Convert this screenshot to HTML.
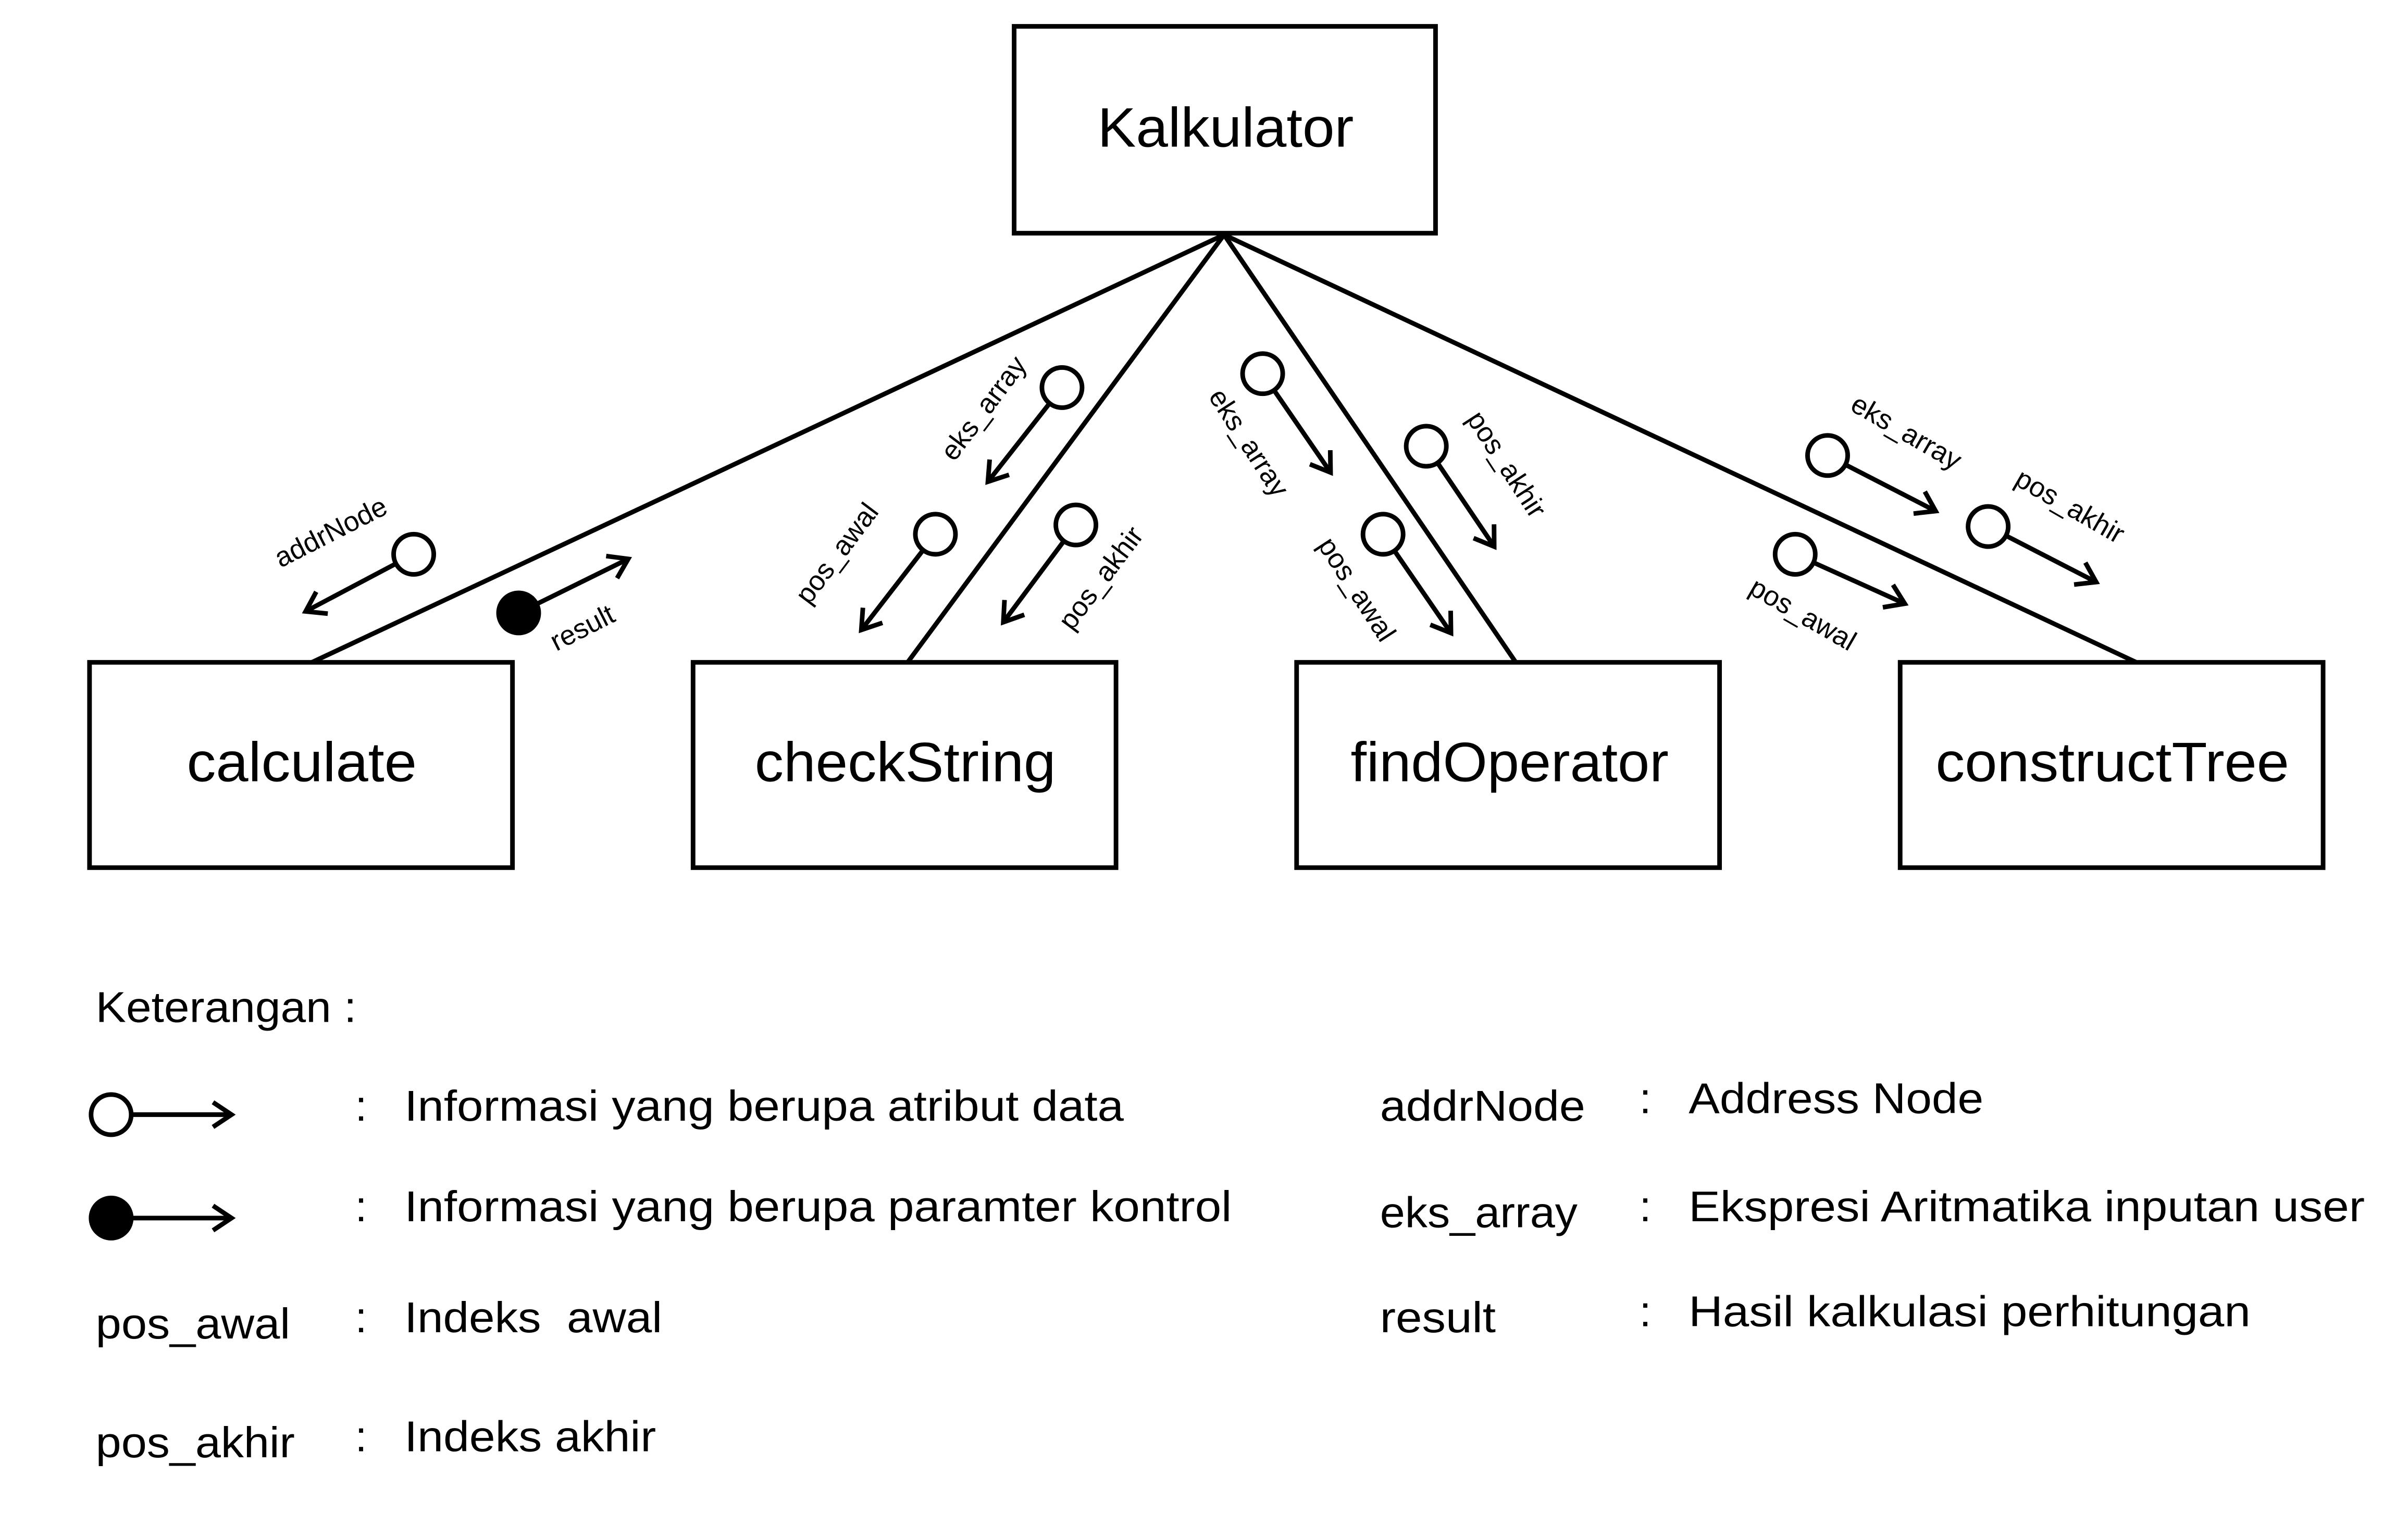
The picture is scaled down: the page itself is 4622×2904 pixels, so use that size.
<!DOCTYPE html>
<html><head><meta charset="utf-8"><style>
html,body{margin:0;padding:0;background:#fff;}
svg{display:block;}
text{font-family:"Liberation Sans",sans-serif;fill:#000;}
</style></head><body>
<svg width="4622" height="2904" viewBox="0 0 1560 980" xmlns="http://www.w3.org/2000/svg">
<defs>
<marker id="ah" markerUnits="userSpaceOnUse" markerWidth="30" markerHeight="30" refX="14" refY="10" orient="auto">
<path d="M2,2 L14,10 L2,18" fill="none" stroke="#000" stroke-width="3"/>
</marker>
</defs>
<rect width="1560" height="980" fill="#fff"/>
<g fill="#fff" stroke="#000" stroke-width="3">
<rect x="657" y="17" width="273" height="134"/>
<rect x="58" y="429" width="274" height="133"/>
<rect x="449" y="429" width="274" height="133"/>
<rect x="840" y="429" width="274" height="133"/>
<rect x="1231" y="429" width="274" height="133"/>
</g>
<g stroke="#000" stroke-width="3">
<line x1="793" y1="152" x2="202" y2="429"/>
<line x1="793" y1="152" x2="588" y2="429"/>
<line x1="793" y1="152" x2="982" y2="429"/>
<line x1="793" y1="152" x2="1384" y2="429"/>
</g>
<g font-size="36">
<text x="711" y="95" textLength="166" lengthAdjust="spacingAndGlyphs">Kalkulator</text>
<text x="121" y="506" textLength="149" lengthAdjust="spacingAndGlyphs">calculate</text>
<text x="489" y="506" textLength="195" lengthAdjust="spacingAndGlyphs">checkString</text>
<text x="875" y="506" textLength="206" lengthAdjust="spacingAndGlyphs">findOperator</text>
<text x="1254" y="506" textLength="229" lengthAdjust="spacingAndGlyphs">constructTree</text>
</g>
<g stroke="#000" stroke-width="3" fill="none" marker-end="url(#ah)">
<line x1="268" y1="359" x2="198" y2="396"/>
<line x1="336" y1="397" x2="407" y2="362"/>
<line x1="688" y1="251" x2="640" y2="312"/>
<line x1="606" y1="346" x2="558" y2="408"/>
<line x1="697" y1="340" x2="650" y2="403"/>
<line x1="818" y1="242" x2="862" y2="306"/>
<line x1="924" y1="289" x2="968" y2="354"/>
<line x1="896" y1="346" x2="940" y2="410"/>
<line x1="1184" y1="295" x2="1254" y2="331"/>
<line x1="1288" y1="341" x2="1358" y2="377"/>
<line x1="1163" y1="359" x2="1234" y2="391"/>
</g>
<g stroke="#000" stroke-width="3" fill="#fff">
<circle cx="268" cy="359" r="13"/>
<circle cx="336" cy="397" r="13" fill="#000"/>
<circle cx="688" cy="251" r="13"/>
<circle cx="606" cy="346" r="13"/>
<circle cx="697" cy="340" r="13"/>
<circle cx="818" cy="242" r="13"/>
<circle cx="924" cy="289" r="13"/>
<circle cx="896" cy="346" r="13"/>
<circle cx="1184" cy="295" r="13"/>
<circle cx="1288" cy="341" r="13"/>
<circle cx="1163" cy="359" r="13"/>
</g>
<g font-size="18" text-anchor="middle">
<text transform="translate(217,350) rotate(-27)">addrNode</text>
<text transform="translate(380,412) rotate(-27)">result</text>
<text transform="translate(642,268) rotate(-53)">eks_array</text>
<text transform="translate(547,362) rotate(-53)">pos_awal</text>
<text transform="translate(718,378) rotate(-53)">pos_akhir</text>
<text transform="translate(804,290) rotate(57)">eks_array</text>
<text transform="translate(971,304) rotate(57)">pos_akhir</text>
<text transform="translate(874,385) rotate(57)">pos_awal</text>
<text transform="translate(1232,285) rotate(30)">eks_array</text>
<text transform="translate(1338,333) rotate(30)">pos_akhir</text>
<text transform="translate(1165,403) rotate(30)">pos_awal</text>
</g>
<g font-size="28" lengthAdjust="spacingAndGlyphs">
<text x="62" y="662" textLength="169" lengthAdjust="spacingAndGlyphs">Keterangan :</text>
<text x="230" y="726">:</text>
<text x="262" y="726" textLength="466" lengthAdjust="spacingAndGlyphs">Informasi yang berupa atribut data</text>
<text x="230" y="791">:</text>
<text x="262" y="791" textLength="536" lengthAdjust="spacingAndGlyphs">Informasi yang berupa paramter kontrol</text>
<text x="62" y="867" textLength="126" lengthAdjust="spacingAndGlyphs">pos_awal</text>
<text x="230" y="863">:</text>
<text x="262" y="863" textLength="167" lengthAdjust="spacingAndGlyphs">Indeks&#160; awal</text>
<text x="62" y="944" textLength="129" lengthAdjust="spacingAndGlyphs">pos_akhir</text>
<text x="230" y="940">:</text>
<text x="262" y="940" textLength="163" lengthAdjust="spacingAndGlyphs">Indeks akhir</text>
<text x="894" y="726" textLength="133" lengthAdjust="spacingAndGlyphs">addrNode</text>
<text x="1062" y="721">:</text>
<text x="1094" y="721" textLength="191" lengthAdjust="spacingAndGlyphs">Address Node</text>
<text x="894" y="795" textLength="128" lengthAdjust="spacingAndGlyphs">eks_array</text>
<text x="1062" y="791">:</text>
<text x="1094" y="791" textLength="438" lengthAdjust="spacingAndGlyphs">Ekspresi Aritmatika inputan user</text>
<text x="894" y="863" textLength="75" lengthAdjust="spacingAndGlyphs">result</text>
<text x="1062" y="859">:</text>
<text x="1094" y="859" textLength="364" lengthAdjust="spacingAndGlyphs">Hasil kalkulasi perhitungan</text>
</g>
<g stroke="#000" stroke-width="3" fill="none" marker-end="url(#ah)">
<line x1="72" y1="722" x2="150" y2="722"/>
<line x1="72" y1="789" x2="150" y2="789"/>
</g>
<circle cx="72" cy="722" r="13" fill="#fff" stroke="#000" stroke-width="3"/>
<circle cx="72" cy="789" r="13" fill="#000" stroke="#000" stroke-width="3"/>
</svg>
</body></html>
